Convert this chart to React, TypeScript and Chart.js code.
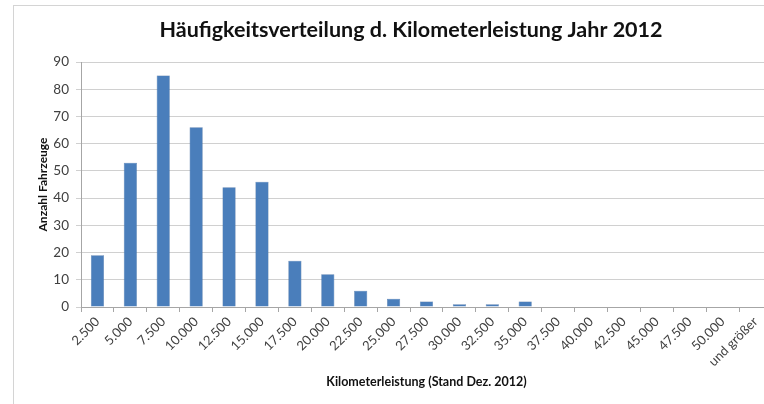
import React, { useEffect, useRef } from "react";
import { Chart, registerables } from "chart.js";

Chart.register(...registerables);

const categories = [
  "2.500", "5.000", "7.500", "10.000", "12.500", "15.000", "17.500", "20.000",
  "22.500", "25.000", "27.500", "30.000", "32.500", "35.000", "37.500", "40.000",
  "42.500", "45.000", "47.500", "50.000", "und größer",
];
const counts = [19, 53, 85, 66, 44, 46, 17, 12, 6, 3, 2, 1, 1, 2, 0, 0, 0, 0, 0, 0, 0];
const titleText = "Häufigkeitsverteilung d. Kilometerleistung Jahr 2012";
const yTitle = "Anzahl Fahrzeuge";
const xTitle = "Kilometerleistung (Stand Dez. 2012)";
const yMin = 0;
const yMax = 90;
const yStep = 10;

const frame = {
  id: "frame",
  beforeDraw(chart: any) {
    const ctx = chart.ctx;
    ctx.save();
    ctx.fillStyle = "#ffffff";
    ctx.fillRect(0, 0, chart.width, chart.height);
    ctx.strokeStyle = "#d4d4d4";
    ctx.lineWidth = 1;
    ctx.strokeRect(13.5, 5.5, 2000, 2000);
    ctx.restore();
  },
  afterDraw(chart: any) {
    const ctx = chart.ctx;
    ctx.save();
    ctx.fillStyle = "#111111";
    ctx.font = "bold 21.5px Lato";
    ctx.textAlign = "center";
    ctx.textBaseline = "middle";
    ctx.fillText(titleText, 411, 30);
    ctx.restore();
  },
};

export default function App() {
  const ref = useRef<HTMLCanvasElement | null>(null);
  useEffect(() => {
    document.body.style.margin = "0";
    document.body.style.overflow = "hidden";
    const chart = new Chart(ref.current as HTMLCanvasElement, {
      type: "bar",
      data: {
        labels: categories,
        datasets: [
          {
            data: counts,
            backgroundColor: "#4a7ebb",
            borderColor: "#40699c",
            borderWidth: 0.5,
            categoryPercentage: 1,
            barPercentage: 0.4,
          },
        ],
      },
      plugins: [frame],
      options: {
        responsive: true,
        maintainAspectRatio: false,
        animation: false,
        layout: { padding: { top: 62, left: 0, right: 0, bottom: 0 } },
        plugins: {
          legend: { display: false },
          tooltip: { enabled: false },
          title: { display: false },
        },
        scales: {
          x: {
            afterFit(scale: any) {
              scale.height = 97;
            },
            grid: {
              display: true,
              drawOnChartArea: false,
              drawTicks: true,
              tickLength: 5,
              color: "#a6a6a6",
              offset: true,
            },
            border: { display: true, color: "#a6a6a6" },
            ticks: {
              color: "#404040",
              font: { family: "Lato", size: 13 },
              minRotation: 45,
              maxRotation: 45,
              autoSkip: false,
              padding: 2,
            },
            title: {
              display: true,
              text: xTitle,
              color: "#111111",
              font: { family: "Lato", size: 12.5, weight: "bold" },
              padding: { top: 0, bottom: 15 },
            },
          },
          y: {
            min: yMin,
            max: yMax,
            afterFit(scale: any) {
              scale.width = 81;
            },
            grid: {
              color: "#d0d0d0",
              tickLength: 5,
              drawTicks: true,
            },
            border: { display: true, color: "#a6a6a6" },
            ticks: {
              stepSize: yStep,
              color: "#404040",
              font: { family: "Lato", size: 13.5 },
              padding: 7,
            },
            title: {
              display: true,
              text: yTitle,
              color: "#111111",
              font: { family: "Lato", size: 12, weight: "bold" },
              padding: { top: 36, bottom: 0 },
            },
          },
        },
      },
    } as any);
    return () => chart.destroy();
  }, []);
  return (
    <div style={{ position: "fixed", left: 0, top: 0, width: 772, height: 404 }}>
      <canvas ref={ref} />
    </div>
  );
}
